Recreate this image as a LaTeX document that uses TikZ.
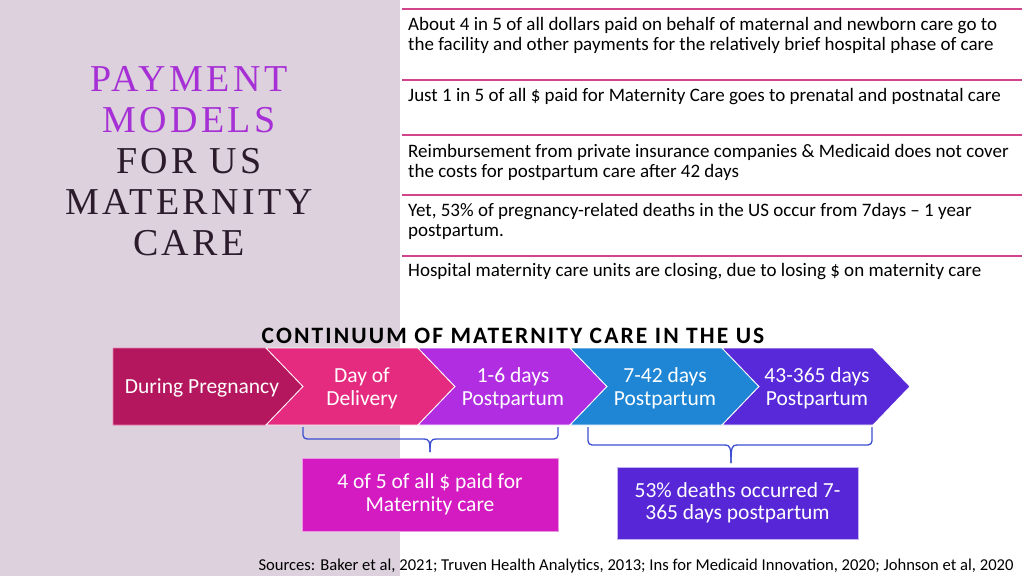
\documentclass[tikz,border=0pt]{standalone}
\usepackage{fontspec}
\setmainfont{Carlito}
\newfontfamily\titlefont[LetterSpace=9]{Liberation Serif}
\newfontfamily\headfont[LetterSpace=9]{Carlito}
\definecolor{leftbg}{HTML}{DCD1DC}
\definecolor{sepcol}{HTML}{D2458C}
\definecolor{titlepurple}{HTML}{A630D6}
\definecolor{titledark}{HTML}{2B1B2B}
\definecolor{chA}{HTML}{B5175E}
\definecolor{chB}{HTML}{E52B80}
\definecolor{chC}{HTML}{B12DE2}
\definecolor{chD}{HTML}{1E86D5}
\definecolor{chE}{HTML}{5829D8}
\definecolor{boxA}{HTML}{D31BC1}
\definecolor{boxB}{HTML}{5726D6}
\definecolor{bracecol}{HTML}{3C4FD0}
\tikzset{
  sepline/.style={draw=sepcol, line width=1.2pt},
  factext/.style={anchor=west, align=left, inner sep=0pt, font=\fontsize{19}{20}\selectfont, text=black},
  chevshape/.style={draw=white, line width=0.8pt},
  chevtext/.style={align=center, text=white, inner sep=0pt, font=\fontsize{21.5}{23}\selectfont},
  infobox/.style={text=white, align=center, font=\fontsize{21.5}{22.5}\selectfont},
  bracestyle/.style={draw=bracecol, line width=1.3pt, rounded corners=4pt},
}
\begin{document}
\begin{tikzpicture}[x=1pt,y=-1pt]
\useasboundingbox (0,0) rectangle (1024,576);
\fill[leftbg] (0,0) rectangle (400,576);
\fill[white] (400,0) rectangle (1024,576);

% separator lines
\foreach \yy in {9,80,135,195,256}
  \draw[sepline] (402,\yy) -- (1022,\yy);

% facts
\node[factext] (f1) at (408,35) {About 4 in 5 of all dollars paid on behalf of maternal and newborn care go to\\the facility and other payments for the relatively brief hospital phase of care};
\node[factext] (f2) at (408,97) {Just 1 in 5 of all \$ paid for Maternity Care goes to prenatal and postnatal care};
\node[factext] (f3) at (408,162) {Reimbursement from private insurance companies \& Medicaid does not cover\\the costs for postpartum care after 42 days};
\node[factext] (f4) at (408,221) {Yet, 53\% of pregnancy-related deaths in the US occur from 7days -- 1 year\\postpartum.};
\node[factext] (f5) at (408,272) {Hospital maternity care units are closing, due to losing \$ on maternity care};

% title
\node[align=center, inner sep=0pt, font=\titlefont\fontsize{38}{41}\selectfont] (title) at (189,161)
  {\color{titlepurple}PAYMENT\\\color{titlepurple}MODELS\\\color{titledark}FOR US\\\color{titledark}MATERNITY\\\color{titledark}CARE};

% continuum heading
\node[font=\headfont\bfseries\fontsize{23.5}{24}\selectfont, inner sep=0pt] (cont) at (513,336) {CONTINUUM OF MATERNITY CARE IN THE US};

% chevrons
\fill[chA] (113,348) -- (266,348) -- (303,386.5) -- (266,425) -- (113,425) -- cycle;
\draw[chevshape, draw=chB!60!white] (113,348) -- (266,348) -- (303,386.5) -- (266,425) -- (113,425) -- cycle;
\filldraw[chevshape, fill=chB] (266,348) -- (418,348) -- (455,386.5) -- (418,425) -- (266,425) -- (303,386.5) -- cycle;
\filldraw[chevshape, fill=chC] (418,348) -- (570,348) -- (607,386.5) -- (570,425) -- (418,425) -- (455,386.5) -- cycle;
\filldraw[chevshape, fill=chD] (570,348) -- (722,348) -- (759,386.5) -- (722,425) -- (570,425) -- (607,386.5) -- cycle;
\filldraw[chevshape, fill=chE] (722,348) -- (873,348) -- (910,386.5) -- (873,425) -- (722,425) -- (759,386.5) -- cycle;

\node[chevtext] (c1) at (202,387.5) {During Pregnancy};
\node[chevtext] (c2) at (362,388) {Day of\\Delivery};
\node[chevtext] (c3) at (513,388) {1-6 days\\Postpartum};
\node[chevtext] (c4) at (665,388) {7-42 days\\Postpartum};
\node[chevtext] (c5) at (817,388) {43-365 days\\Postpartum};

% boxes
\node[infobox, fill=boxA, draw=boxA!45!white, line width=0.8pt, minimum width=256pt, minimum height=73pt] (b1) at (430,494.5) {4 of 5 of all \$ paid for\\Maternity care};
\node[infobox, fill=boxB, draw=boxB!35!white, line width=0.8pt, minimum width=241pt, minimum height=72pt] (b2) at (737.5,503) {53\% deaths occurred 7-\\365 days postpartum};

% braces
\coordinate (l1) at (303,427);
\coordinate (l2) at (558,427);
\coordinate (lt) at (430,452);
\draw[bracestyle] (l1) -- (303,439) -- (424,439);
\draw[bracestyle] (l2) -- (558,439) -- (436,439);
\draw[draw=bracecol, line width=1.3pt] (424,439) .. controls (429,439) and (430,441) .. (lt);
\draw[draw=bracecol, line width=1.3pt] (436,439) .. controls (431,439) and (430,441) .. (lt);

\coordinate (r1) at (588,427);
\coordinate (r2) at (872,427);
\coordinate (rt) at (731,463);
\draw[bracestyle] (r1) -- (588,445) -- (725,445);
\draw[bracestyle] (r2) -- (872,445) -- (737,445);
\draw[draw=bracecol, line width=1.3pt] (725,445) .. controls (730,445) and (731,447) .. (rt);
\draw[draw=bracecol, line width=1.3pt] (737,445) .. controls (732,445) and (731,447) .. (rt);

% sources
\node[font=\fontsize{16.6}{18}\selectfont, inner sep=0pt] (src) at (636,566) {Sources: Baker et al, 2021; Truven Health Analytics, 2013; Ins for Medicaid Innovation, 2020; Johnson et al, 2020};
\end{tikzpicture}
\end{document}
